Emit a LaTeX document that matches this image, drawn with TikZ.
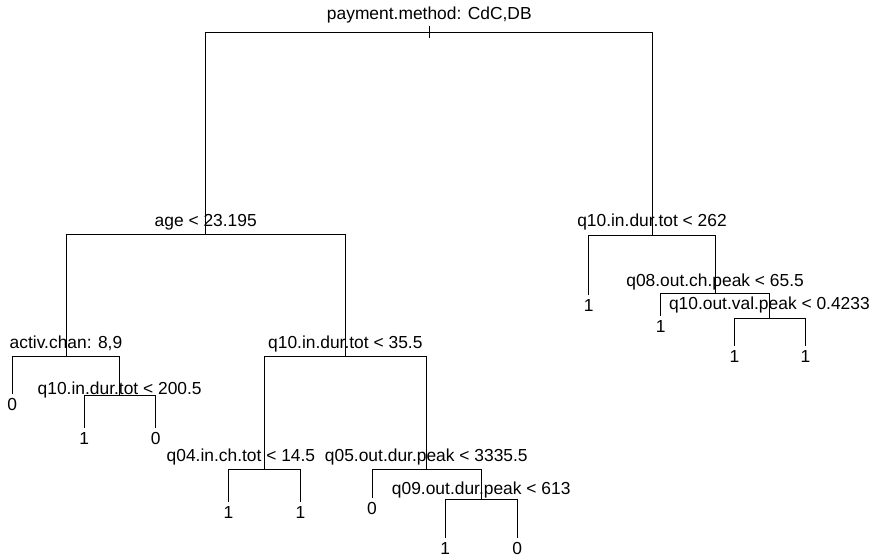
\documentclass[tikz,border=0pt]{standalone}
\usepackage{fontspec}
\setmainfont{Liberation Sans}
\begin{document}
\begin{tikzpicture}[
		x=1pt, y=-1pt,
		branch/.style={draw, line width=0.9pt, line cap=rect},
		split/.style={font=\fontsize{17.4}{20}\selectfont, anchor=base, inner sep=0pt},
		leaf/.style={font=\fontsize{17.4}{20}\selectfont, anchor=north, inner sep=0pt, yshift=-4.5pt}
		]
		\useasboundingbox (0,0) rectangle (869,557);
		
		% split points
		\coordinate (root)  at (429.3,32);
		\coordinate (age)   at (205.7,234.5);
		\coordinate (q262)  at (652,235);
		\coordinate (activ) at (66,356.5);
		\coordinate (q2005) at (119.7,395.7);
		\coordinate (q355)  at (345.3,356.7);
		\coordinate (q04)   at (264.4,469);
		\coordinate (q05)   at (426.3,469);
		\coordinate (q09)   at (481.2,499);
		\coordinate (q08)   at (715.1,293);
		\coordinate (qval)  at (769.4,318.3);
		
		% leaf ends
		\coordinate (l0a) at (12.2,393.5);
		\coordinate (l1a) at (84.3,428);
		\coordinate (l0b) at (155.8,428);
		\coordinate (l1b) at (228.4,502);
		\coordinate (l1c) at (300.4,502);
		\coordinate (l0c) at (372,497.5);
		\coordinate (l1d) at (445.1,538);
		\coordinate (l0d) at (517.2,538);
		\coordinate (l1e) at (588.7,295);
		\coordinate (l1f) at (660.8,315.5);
		\coordinate (l1g) at (734.5,345.5);
		\coordinate (l1h) at (805.4,345.5);
		
		% branches
		\foreach \p/\c in {root/age, root/q262, age/activ, age/q355, activ/l0a, activ/q2005,
			q2005/l1a, q2005/l0b, q355/q04, q355/q05, q04/l1b, q04/l1c, q05/l0c, q05/q09,
			q09/l1d, q09/l0d, q262/l1e, q262/q08, q08/l1f, q08/qval, qval/l1g, qval/l1h}
		\draw[branch] (\p) -| (\c);
		\draw[branch] (root) ++(0,-5.3) -- ++(0,11);
		
		% split labels
		\node[split, yshift=12.3pt] (troot)  at (root)  {payment.method: CdC,DB};
		\node[split, yshift=7.8pt]  (tage)   at (age)   {age < 23.195};
		\node[split, yshift=8.3pt]  (tq262)  at (q262)  {q10.in.dur.tot < 262};
		\node[split, yshift=8.2pt]  (tactiv) at (activ) {activ.chan: 8,9};
		\node[split, yshift=1.7pt]  (tq2005) at (q2005) {q10.in.dur.tot < 200.5};
		\node[split, yshift=8.4pt]  (tq355)  at (q355)  {q10.in.dur.tot < 35.5};
		\node[split, yshift=7.3pt, xshift=-23.5pt] (tq04) at (q04) {q04.in.ch.tot < 14.5};
		\node[split, yshift=7.3pt]  (tq05)   at (q05)   {q05.out.dur.peak < 3335.5};
		\node[split, yshift=4.3pt]  (tq09)   at (q09)   {q09.out.dur.peak < 613};
		\node[split, yshift=6.6pt]  (tq08)   at (q08)   {q08.out.ch.peak < 65.5};
		\node[split, yshift=9pt]    (tqval)  at (qval)  {q10.out.val.peak < 0.4233};
		
		% leaf labels
		\foreach \c/\v in {l0a/0, l1a/1, l0b/0, l1b/1, l1c/1, l0c/0, l1d/1, l0d/0,
			l1e/1, l1f/1, l1g/1, l1h/1}
		\node[leaf] (t\c) at (\c) {\v};
		
	\end{tikzpicture}
\end{document}
